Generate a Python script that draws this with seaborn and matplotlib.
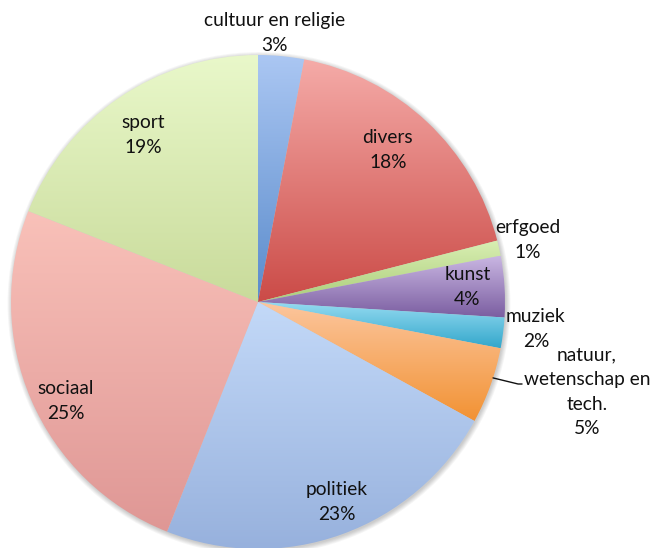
import numpy as np
import matplotlib
matplotlib.use("Agg")
import matplotlib.pyplot as plt
import matplotlib.colors as mcolors
import seaborn as sns

categories = ["cultuur en religie", "divers", "erfgoed", "kunst", "muziek",
              "natuur,\nwetenschap en\ntech.", "politiek", "sociaal", "sport"]
shares = [3, 18, 1, 4, 2, 5, 23, 25, 19]

# gradient fill per slice: (top colour, bottom colour)
top_colors = ["#abc7f3", "#f5aba8", "#d9efb3", "#c9b6e2", "#97dcf2",
              "#fcc69e", "#c3d9f8", "#f9c1b9", "#e9f8ca"]
bottom_colors = ["#5a8bcb", "#cb4b47", "#abcd7b", "#7a5da0", "#33a7cb",
                 "#f29233", "#97b1dd", "#df9795", "#c9db9b"]

# label placement: radial distance (in radii) and angular nudge (deg)
label_dist = [1.09, 0.81, 1.12, 0.85, 1.13, 1.38, 0.87, 0.875, 0.82]
label_nudge = [1.8, 2.7, 0.4, 0.5, 1.7, 4.5, 1.8, 3.9, 0.3]

sns.set_theme(style="white")
plt.rcParams["font.family"] = ["Lato", "DejaVu Sans"]

W, H, DPI = 653, 548, 100
cx, cy, R = 258, 302, 247
fig = plt.figure(figsize=(W / DPI, H / DPI), dpi=DPI)
ax = fig.add_axes([0, 0, 1, 1])

# soft shadow around the pie
for rr in np.linspace(1.018, 1.0, 6):
    ax.add_patch(plt.Circle((0.004, -0.006), rr, color="#000000",
                            alpha=0.035, lw=0, zorder=0))

wedges, _ = ax.pie(shares, startangle=90, counterclock=False, radius=1.0,
                   colors=["none"] * len(shares),
                   wedgeprops=dict(linewidth=0, edgecolor="none"))

for w, ct, cb in zip(wedges, top_colors, bottom_colors):
    t1, t2 = np.deg2rad(w.theta1), np.deg2rad(w.theta2)
    th = np.linspace(t1, t2, 200)
    xs = np.concatenate([[0], np.cos(th)])
    ys = np.concatenate([[0], np.sin(th)])
    x0, x1, y0, y1 = xs.min(), xs.max(), ys.min(), ys.max()
    cmap = mcolors.LinearSegmentedColormap.from_list("g", [cb, ct])
    grad = np.linspace(0, 1, 256).reshape(-1, 1)
    im = ax.imshow(grad, cmap=cmap, origin="lower", aspect="auto",
                   extent=[x0, x1, y0, y1], interpolation="bicubic", zorder=1)
    im.set_clip_path(w)

for w, cat, val, d, nd in zip(wedges, categories, shares, label_dist, label_nudge):
    mid = 0.5 * (w.theta1 + w.theta2)
    ang = np.deg2rad(mid + nd)
    ax.text(d * np.cos(ang), d * np.sin(ang), f"{cat}\n{val}%",
            ha="center", va="center", fontsize=13.8, color="#111111",
            linespacing=1.55, zorder=3)

# leader line for the natuur slice
wn = wedges[5]
a = np.deg2rad(0.5 * (wn.theta1 + wn.theta2) + 1.9)
p0 = (np.cos(a), np.sin(a))
p1 = (1.053, -0.332)
p2 = (1.069, -0.332)
ax.plot([p0[0], p1[0], p2[0]], [p0[1], p1[1], p2[1]], color="#111111",
        lw=1.0, zorder=3)

ax.set_xlim(-cx / R, (W - cx) / R)
ax.set_ylim(-(H - cy) / R, cy / R)
ax.set_aspect("equal")
ax.axis("off")

fig.savefig("out.png", dpi=DPI)
